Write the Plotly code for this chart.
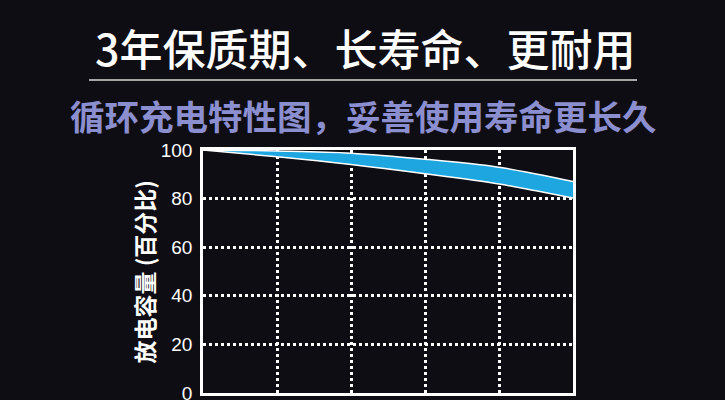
import plotly.graph_objects as go

# cycle count (x) and discharge capacity in percent (y)
cycles = [0, 100, 200, 300, 400, 450, 500]
capacity_upper = [100, 99.6, 98.7, 96.2, 92.9, 90.1, 87.0]
capacity_lower = [100, 97.2, 94.0, 90.2, 86.0, 83.2, 80.2]
y_ticks = [0, 20, 40, 60, 80, 100]

title_text = "3年保质期、长寿命、更耐用"
subtitle_text = "循环充电特性图，妥善使用寿命更长久"
y_title = "放电容量 (百分比)"

BG = "#0e0d13"
BLUE = "#1ea6e0"
CJK = "Noto Sans CJK SC"

fig = go.Figure()

fig.add_trace(go.Scatter(x=cycles, y=capacity_lower, mode="lines",
                         line=dict(color="white", width=1.5, shape="spline"),
                         hoverinfo="skip", showlegend=False))
fig.add_trace(go.Scatter(x=cycles, y=capacity_upper, mode="lines",
                         line=dict(color="white", width=1.5, shape="spline"),
                         fill="tonexty", fillcolor=BLUE,
                         hoverinfo="skip", showlegend=False))

fig.update_xaxes(range=[0, 500], tickvals=[100, 200, 300, 400],
                 showticklabels=False, ticks="", automargin=False,
                 showgrid=True, gridcolor="white", gridwidth=3, griddash="dot",
                 showline=True, linecolor="white", linewidth=2.5, mirror=True,
                 zeroline=False)
fig.update_yaxes(range=[0, 100], tickvals=y_ticks, automargin=False,
                 tickfont=dict(family="Liberation Sans", size=19, color="white"),
                 ticks="", ticklabelstandoff=4, ticklabeloverflow="allow",
                 showgrid=True, gridcolor="white", gridwidth=3, griddash="dot",
                 showline=True, linecolor="white", linewidth=2.5, mirror=True,
                 zeroline=False)

fig.add_annotation(text=title_text, xref="paper", yref="paper",
                   x=0.438, y=1.424, xanchor="center", yanchor="middle",
                   showarrow=False,
                   font=dict(family=CJK, size=43, color="white", weight=500))
fig.add_annotation(text="<b>" + subtitle_text + "</b>", xref="paper", yref="paper",
                   x=0.435, y=1.144, xanchor="center", yanchor="middle",
                   showarrow=False, borderpad=0,
                   font=dict(family=CJK, size=34.5, color="#8c8fcf"))
fig.add_annotation(text="<b>" + y_title + "</b>", xref="paper", yref="paper",
                   x=-0.162, y=0.5, xanchor="center", yanchor="middle",
                   textangle=-90, showarrow=False,
                   font=dict(family=CJK, size=23, color="white"))

fig.add_shape(type="line", xref="paper", yref="paper",
              x0=-0.308, x1=1.173, y0=1.288, y1=1.288,
              line=dict(color="#d8d8d8", width=1.5))

fig.update_layout(width=725, height=400,
                  margin=dict(l=203, r=152, t=150, b=7),
                  paper_bgcolor=BG, plot_bgcolor=BG)

# drop the default page margin so the figure sits at the window corner
fig.write_html("out.html", config={"displayModeBar": False},
               post_script="document.body.style.margin='0';")
